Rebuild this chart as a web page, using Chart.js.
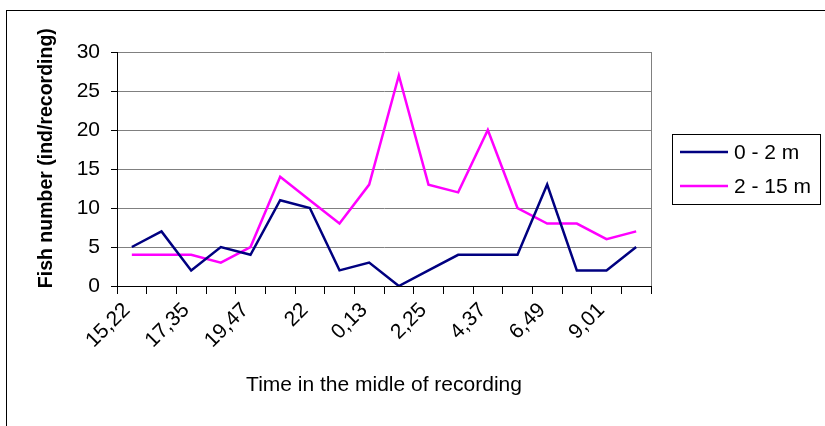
<!DOCTYPE html>
<html>
<head>
<meta charset="utf-8">
<script src="https://cdn.jsdelivr.net/npm/chart.js@4/dist/chart.umd.min.js"></script>
<style>
html,body{margin:0;padding:0;background:#fff;}
#wrap{width:825px;height:426px;position:relative;}
</style>
</head>
<body>
<div id="wrap"><canvas id="c" width="825" height="426"></canvas></div>
<script>
// Tick labels shown under every second category
const tickLabels = ['15,22','17,35','19,47','22','0,13','2,25','4,37','6,49','9,01'];
// 18 recordings; the unlabelled ones are blank
const categories = tickLabels.flatMap(t => [t, '']);
const seriesNames = ['0 - 2 m', '2 - 15 m'];
const shallow = [5, 7, 2, 5, 4, 11, 10, 2, 3, 0, 2, 4, 4, 4, 13, 2, 2, 5];
const deep    = [4, 4, 4, 3, 5, 14, 11, 8, 13, 27, 13, 12, 20, 10, 8, 8, 6, 7];
const yTicks = [0, 5, 10, 15, 20, 25, 30];

const FONT = "'Liberation Sans', Arial, sans-serif";

const framePlugin = {
  id: 'frame',
  beforeDraw(chart) {
    const ctx = chart.ctx;
    ctx.save();
    ctx.fillStyle = '#fff';
    ctx.fillRect(0, 0, chart.width, chart.height);
    ctx.strokeStyle = '#000';
    ctx.lineWidth = 1;
    ctx.strokeRect(6.5, 10.5, 900, 500);
    ctx.restore();
  },
  afterDatasetsDraw(chart) {
    const ctx = chart.ctx, a = chart.chartArea;
    ctx.save();
    ctx.strokeStyle = '#808080';
    ctx.lineWidth = 1;
    ctx.beginPath();
    ctx.moveTo(Math.round(a.right) + 0.5, a.top);
    ctx.lineTo(Math.round(a.right) + 0.5, a.bottom);
    ctx.stroke();
    // legend
    const lx = 672.5, ly = 134.5, lw = 148, lh = 70;
    ctx.fillStyle = '#fff';
    ctx.fillRect(lx, ly, lw, lh);
    ctx.strokeStyle = '#000';
    ctx.strokeRect(lx, ly, lw, lh);
    ctx.font = '21px ' + FONT;
    ctx.textBaseline = 'middle';
    ctx.textAlign = 'left';
    chart.data.datasets.forEach((ds, i) => {
      const y = 152 + i * 34;
      ctx.strokeStyle = ds.borderColor;
      ctx.lineWidth = 2.5;
      ctx.beginPath();
      ctx.moveTo(680, y);
      ctx.lineTo(728, y);
      ctx.stroke();
      ctx.fillStyle = '#000';
      ctx.fillText(ds.label, 734, y + 1);
    });
    ctx.restore();
  }
};

new Chart(document.getElementById('c'), {
  type: 'line',
  data: {
    labels: categories,
    datasets: [
      { label: seriesNames[0], data: shallow, borderColor: '#000080', backgroundColor: '#000080',
        borderWidth: 2.5, pointRadius: 0, tension: 0, fill: false },
      { label: seriesNames[1], data: deep, borderColor: '#FF00FF', backgroundColor: '#FF00FF',
        borderWidth: 2.5, pointRadius: 0, tension: 0, fill: false }
    ]
  },
  options: {
    responsive: false,
    animation: false,
    devicePixelRatio: 1,
    layout: { padding: { left: 35, top: 52, right: 174, bottom: 28 } },
    plugins: { legend: { display: false }, tooltip: { enabled: false } },
    scales: {
      x: {
        type: 'category',
        offset: true,
        grid: { offset: true, drawOnChartArea: false, drawTicks: true, tickLength: 8, tickColor: '#000' },
        border: { color: '#000', width: 1 },
        ticks: {
          autoSkip: false, minRotation: 45, maxRotation: 45, padding: 4, labelOffset: -5,
          color: '#000', font: { family: FONT, size: 21 }
        },
        title: { display: true, text: 'Time in the midle of recording', color: '#000',
          font: { family: FONT, size: 21 }, padding: { top: 0, bottom: 0 } },
        afterFit(scale) { scale.height = 426 - 28 - 286; }
      },
      y: {
        min: 0, max: 30,
        afterBuildTicks(scale) { scale.ticks = yTicks.map(v => ({ value: v })); },
        grid: { color: '#808080', lineWidth: 1, tickLength: 6, tickColor: '#000' },
        border: { color: '#000', width: 1 },
        ticks: { color: '#000', padding: 11, font: { family: FONT, size: 21 } },
        title: { display: true, text: '\u00a0\u00a0\u00a0\u00a0Fish number (ind/recording)', color: '#000',
          font: { family: FONT, size: 19.5, weight: 'bold' }, padding: { top: 0, bottom: 0 } },
        afterFit(scale) { scale.width = 117 - 35; }
      }
    }
  },
  plugins: [framePlugin]
});
</script>
</body>
</html>
